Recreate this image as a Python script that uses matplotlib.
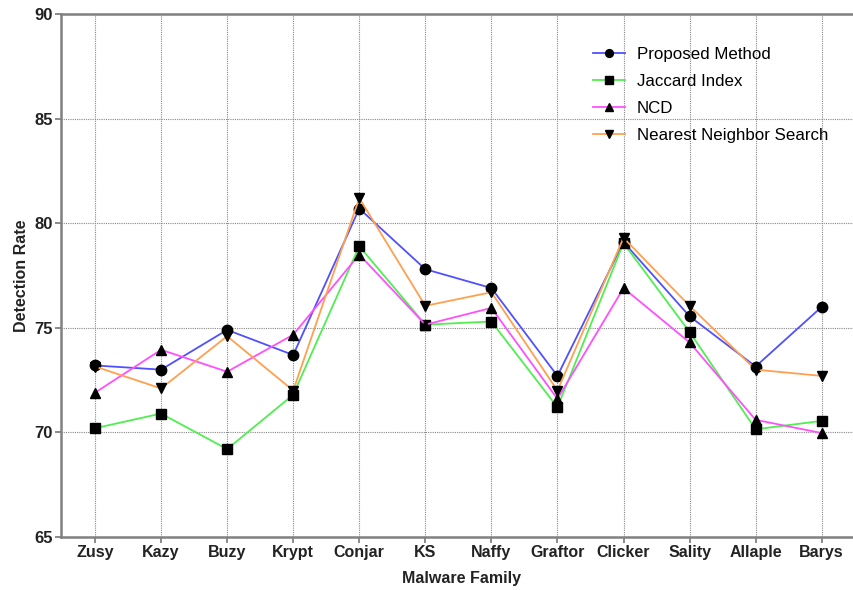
import matplotlib
matplotlib.use("Agg")
import matplotlib.pyplot as plt

families = ["Zusy", "Kazy", "Buzy", "Krypt", "Conjar", "KS", "Naffy",
            "Graftor", "Clicker", "Sality", "Allaple", "Barys"]
proposed = [73.2, 73.0, 74.9, 73.7, 80.7, 77.8, 76.9, 72.7, 79.1, 75.55, 73.15, 76.0]
jaccard = [70.2, 70.9, 69.2, 71.8, 78.9, 75.15, 75.3, 71.2, 79.05, 74.8, 70.15, 70.55]
ncd = [71.9, 73.95, 72.9, 74.67, 78.5, 75.15, 75.95, 71.6, 76.9, 74.3, 70.6, 69.97]
nns = [73.15, 72.1, 74.6, 72.0, 81.2, 76.05, 76.7, 72.0, 79.3, 76.05, 73.0, 72.7]
yticks = [65, 70, 75, 80, 85, 90]

plt.rcParams['font.family'] = ['Liberation Sans', 'DejaVu Sans']

fig = plt.figure(figsize=(8.54, 5.90), dpi=100)
ax = fig.add_axes([61/854, 53/590, 800/854, 523/590])

x = list(range(len(families)))
series = [
    (proposed, "Proposed Method", "#5050ff", "o", 7.5),
    (jaccard, "Jaccard Index", "#50ee50", "s", 7.2),
    (ncd, "NCD", "#ff50ff", "^", 7.2),
    (nns, "Nearest Neighbor Search", "#ffa050", "v", 7.2),
]
for vals, lab, col, mk, ms in series:
    ax.plot(x, vals, color=col, lw=1.3, marker=mk, markersize=ms,
            markerfacecolor="black", markeredgecolor="black", label=lab)

ax.set_xlim(-0.515, -0.515 + 800/66.06)
ax.set_ylim(65, 90)
ax.set_xticks(x)
ax.set_xticklabels(families, fontsize=11.5, fontweight="bold", color="#222222")
ax.set_yticks(yticks)
ax.set_yticklabels([str(v) for v in yticks], fontsize=12, fontweight="bold", color="#222222")
ax.tick_params(axis="both", direction="out", length=4, width=1.2, color="#777777", pad=2)

ax.grid(True, linestyle=(0, (1, 1)), color="#888888", linewidth=0.8)
ax.set_axisbelow(True)
for s in ax.spines.values():
    s.set_color("#808080")
    s.set_linewidth(1.8)

ax.set_xlabel("Malware Family", fontsize=11.5, fontweight="bold", color="#222222", labelpad=8)
ax.set_ylabel("Detection Rate", fontsize=11.5, fontweight="bold", color="#222222", labelpad=4)

leg = ax.legend(loc="upper left", bbox_to_anchor=(0.646, 0.967), frameon=False,
                fontsize=12.2, handlelength=1.9, labelspacing=0.72, handletextpad=0.7,
                markerscale=0.75)

fig.savefig("out.png", dpi=100)
